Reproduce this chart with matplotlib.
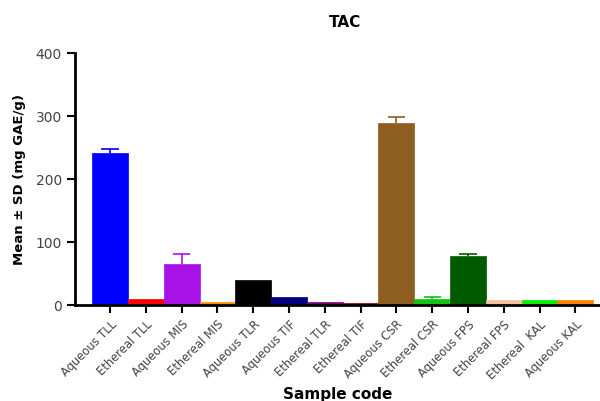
import numpy as np
import matplotlib
matplotlib.use('Agg')
import matplotlib.pyplot as plt

# sample codes and TAC values
samples = ['Aqueous TLL', 'Ethereal TLL', 'Aqueous MIS', 'Ethereal MIS',
           'Aqueous TLR', 'Aqueous TIF', 'Ethereal TLR', 'Ethereal TIF',
           'Aqueous CSR', 'Ethereal CSR', 'Aqueous FPS', 'Ethereal FPS',
           'Ethereal  KAL', 'Aqueous KAL']
means = [241, 9.5, 65, 4.5, 39, 13, 5, 3, 289, 9.5, 78, 8, 8, 8]
sds = [7, 0, 16, 0, 0, 0, 0, 0, 10, 2.5, 3, 0, 0, 0]
colors = ['#0000FF', '#FF0000', '#A812E6', '#FF8C00', '#000000', '#000080',
          '#800080', '#8B0000', '#8E5E21', '#11C411', '#005A00', '#F5C29C',
          '#00F000', '#FF7F00']

plt.rcParams['font.family'] = 'DejaVu Sans'
fig = plt.figure(figsize=(6, 4.01), dpi=100)
ax = fig.add_axes([0.125, 0.2394, 0.875, 0.6284])

x = np.arange(len(samples))
ax.bar(x, means, width=1.0, color=colors, edgecolor=colors, linewidth=0.5, zorder=2)
# upper-only error bars
for xi, m, s, c in zip(x, means, sds, colors):
    if s > 0:
        ax.vlines(xi, m, m + s, color=c, lw=1.2, zorder=3)
        ax.hlines(m + s, xi - 0.24, xi + 0.24, color=c, lw=1.2, zorder=3)

ax.set_xlim(-0.98, 13.69)
ax.set_ylim(0, 400)
ax.set_yticks([0, 100, 200, 300, 400])
ax.set_xticks(x)
ax.set_xticklabels(samples, rotation=45, ha='right', rotation_mode='anchor',
                   fontsize=8.3, color='#444444')
ax.tick_params(axis='y', labelsize=10, labelcolor='#444444', width=1.5, length=6)
ax.tick_params(axis='x', width=1.5, length=6)

for side in ['top', 'right']:
    ax.spines[side].set_visible(False)
for side in ['left', 'bottom']:
    ax.spines[side].set_linewidth(2)

ax.set_ylabel('Mean ± SD (mg GAE/g)', fontsize=9.5, fontweight='bold', labelpad=7)
ax.set_xlabel('Sample code', fontsize=11, fontweight='bold', labelpad=4)
fig.text(0.575, 0.945, 'TAC', ha='center', va='center', fontsize=11, fontweight='bold')

fig.savefig('out.png', dpi=100)
